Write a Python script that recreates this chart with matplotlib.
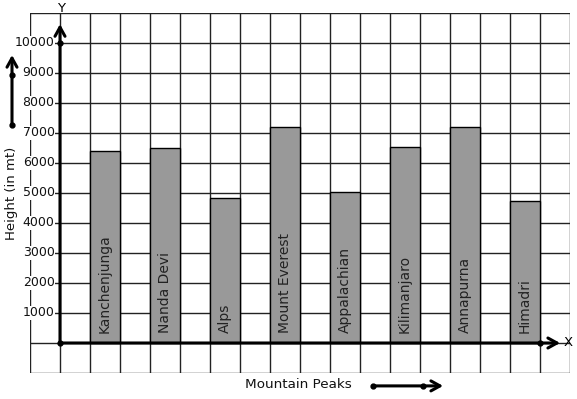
import matplotlib
matplotlib.use('Agg')
from matplotlib import pyplot as plt

# data
peaks = ['Kanchenjunga', 'Nanda Devi', 'Alps', 'Mount Everest', 'Appalachian',
         'Kilimanjaro', 'Annapurna', 'Himadri']
heights = [6400, 6500, 4850, 7200, 5050, 6550, 7200, 4750]
yticks = [1000, 2000, 3000, 4000, 5000, 6000, 7000, 8000, 9000, 10000]

plt.rcParams['font.family'] = 'DejaVu Sans'
fig = plt.figure(figsize=(5.77, 3.99), dpi=100)
ax = fig.add_axes([30 / 577, 26 / 399, 540 / 577, 360 / 399])
ax.set_xlim(-1, 17)
ax.set_ylim(-1000, 11000)
for s in ax.spines.values():
    s.set_visible(False)
ax.set_xticks([])
ax.set_yticks([])

# graph paper grid
for gx in range(-1, 18):
    ax.axvline(gx, color='#222222', lw=1, zorder=1)
for gy in range(-1000, 11001, 1000):
    ax.axhline(gy, color='#222222', lw=1, zorder=1)

# bars, one every other grid square
xpos = [1 + 2 * i for i in range(len(peaks))]
ax.bar(xpos, heights, width=1, align='edge', color='#999999',
       edgecolor='black', lw=1, zorder=2)
for x, name in zip(xpos, peaks):
    ax.text(x + 0.5, 330, name, rotation=90, ha='center', va='bottom',
            fontsize=10, color='#222222', zorder=3)

# y tick labels with white backing
for v in yticks:
    ax.text(-0.18, v, str(v), ha='right', va='center', fontsize=9,
            color='#111111', zorder=3,
            bbox=dict(boxstyle='square,pad=0.05', fc='white', ec='none'))

arrow = dict(arrowstyle='->,head_length=0.65,head_width=0.36', lw=2.2,
             color='black', shrinkA=0, shrinkB=0)

# axes with arrows
ax.annotate('', xy=(0, 10630), xytext=(0, 0), arrowprops=arrow, zorder=4)
ax.annotate('', xy=(16.67, 0), xytext=(0, 0), arrowprops=arrow, zorder=4)
ax.plot([0, 0, 16], [0, 10000, 0], 'o', color='black', ms=3.5, zorder=5,
        clip_on=False)
ax.text(0.05, 11150, 'Y', ha='center', va='center', fontsize=9.5, clip_on=False)
ax.text(16.93, 0, 'X', ha='center', va='center', fontsize=9.5, clip_on=False)

# axis titles
ax.text(-1.6, 5000, 'Height (in mt)', rotation=90, ha='center', va='center',
        fontsize=9.5, color='#111111', clip_on=False)
ax.text(7.95, -1400, 'Mountain Peaks', ha='center', va='center',
        fontsize=9.7, color='#111111', clip_on=False)

# direction arrows beside the titles
ax.annotate('', xy=(-1.6, 9600), xytext=(-1.6, 7270), annotation_clip=False,
            arrowprops=arrow)
ax.plot([-1.6, -1.6], [7270, 8930], 'o', color='black', ms=3.5, clip_on=False)
ax.annotate('', xy=(12.77, -1430), xytext=(10.43, -1430), annotation_clip=False,
            arrowprops=arrow)
ax.plot([10.43, 12.1], [-1430, -1430], 'o', color='black', ms=3.5, clip_on=False)

fig.savefig('out.png', dpi=100)
